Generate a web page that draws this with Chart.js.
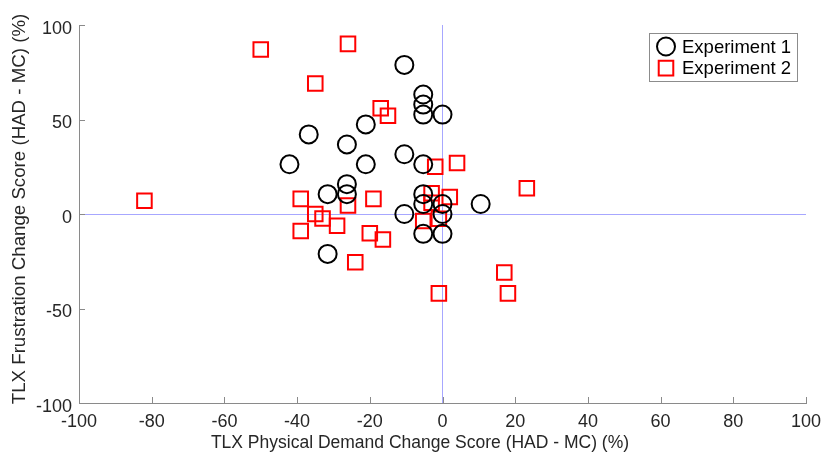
<!DOCTYPE html>
<html>
<head>
<meta charset="utf-8">
<script src="https://cdn.jsdelivr.net/npm/chart.js@4/dist/chart.umd.min.js"></script>
<style>
  html, body { margin: 0; padding: 0; background: #fff; }
  #wrap { width: 825px; height: 456px; }
</style>
</head>
<body>
<div id="wrap"><canvas id="c" width="825" height="456"></canvas></div>
<script>
// TLX change scores (HAD - MC), in percent
const exp1Physical = [-10.5, -5.3, -5.3, -5.3, 0, -36.8, -21.1, -26.3, -42.1, -21.1, -10.5, -5.3,
                      -26.3, -26.3, -31.6, -5.3, -5.3, 0, -10.5, 0, 10.5, -5.3, 0, -31.6];
const exp1Frustration = [78.9, 63.2, 57.9, 52.6, 52.6, 42.1, 47.4, 36.8, 26.3, 26.3, 31.6, 26.3,
                         15.8, 10.5, 10.5, 10.5, 5.3, 5.3, 0, 0, 5.3, -10.5, -10.5, -21.1];

const exp2Physical = [-50, -26, -35, -17, -15, -82, -39, -19, -26, -2, 4, 23.2, -39, -35, -33,
                      -29, -20, -16.4, -24, -3, -3, 2, -5.3, -1, -1, 17, 18];
const exp2Frustration = [87, 90, 69, 56, 52, 7, 8, 8, 4.5, 25, 27, 13.6, -9, 0, -2.4,
                         -6.2, -10.2, -13.5, -25.5, 11, 6, 9, -3.7, -2.5, -42, -31, -42];

const xTicks = [-100, -80, -60, -40, -20, 0, 20, 40, 60, 80, 100];
const yTicks = [-100, -50, 0, 50, 100];

const seriesNames = ['Experiment 1', 'Experiment 2'];
const xTitle = 'TLX Physical Demand Change Score (HAD - MC) (%)';
const yTitle = 'TLX Frustration Change Score (HAD - MC) (%)';

const toPoints = (xs, ys) => xs.map((x, i) => ({ x: x, y: ys[i] }));

const AXIS_GREY = '#8a8a8a';
const TEXT_COLOR = '#262626';
const ZERO_COLOR = 'rgba(120,120,255,0.65)';
const FONT = '"Liberation Sans", Arial, sans-serif';

// Tick marks pointing into the plot, plus the axis titles and boxed legend
const decorations = {
  id: 'decorations',
  afterDatasetsDraw(chart) {
    const { ctx, chartArea: a, scales } = chart;
    ctx.save();
    ctx.strokeStyle = AXIS_GREY;
    ctx.lineWidth = 1;
    ctx.beginPath();
    scales.x.ticks.forEach(t => {
      const px = Math.round(scales.x.getPixelForValue(t.value)) + 0.5;
      ctx.moveTo(px, a.bottom);
      ctx.lineTo(px, a.bottom - 6);
    });
    scales.y.ticks.forEach(t => {
      const py = Math.round(scales.y.getPixelForValue(t.value)) + 0.5;
      ctx.moveTo(a.left, py);
      ctx.lineTo(a.left + 6, py);
    });
    ctx.stroke();

    // axis titles
    ctx.fillStyle = TEXT_COLOR;
    ctx.textAlign = 'center';
    ctx.textBaseline = 'middle';
    ctx.font = '17.5px ' + FONT;
    ctx.fillText(xTitle, 420, 443);
    ctx.save();
    ctx.font = '18.7px ' + FONT;
    ctx.translate(20, 209);
    ctx.rotate(-Math.PI / 2);
    ctx.fillText(yTitle, 0, 0);
    ctx.restore();

    // legend
    const boxR = a.right - 9, boxT = a.top + 8, boxW = 148, boxH = 48;
    ctx.fillStyle = '#fff';
    ctx.fillRect(boxR - boxW, boxT, boxW, boxH);
    ctx.strokeStyle = '#8c8c8c';
    ctx.strokeRect(boxR - boxW + 0.5, boxT + 0.5, boxW, boxH);
    ctx.font = '18.5px ' + FONT;
    ctx.textAlign = 'left';
    chart.data.datasets.forEach((ds, i) => {
      const cy = boxT + 13.5 + i * 21.6;
      const cx = boxR - boxW + 17;
      ctx.strokeStyle = ds.borderColor;
      ctx.fillStyle = 'rgba(0,0,0,0)';
      ctx.lineWidth = ds.borderWidth;
      Chart.helpers.drawPoint(ctx, {
        pointStyle: ds.pointStyle, radius: ds.pointRadius, rotation: 0, borderWidth: ds.borderWidth
      }, cx, cy);
      ctx.fillStyle = '#000';
      ctx.fillText(ds.label, cx + 16, cy + 1);
    });
    ctx.restore();
  }
};

new Chart(document.getElementById('c'), {
  type: 'scatter',
  data: {
    datasets: [
      {
        label: seriesNames[0],
        data: toPoints(exp1Physical, exp1Frustration),
        pointStyle: 'circle',
        pointRadius: 9,
        pointHoverRadius: 9,
        borderColor: '#000000',
        backgroundColor: 'rgba(0,0,0,0)',
        borderWidth: 2
      },
      {
        label: seriesNames[1],
        data: toPoints(exp2Physical, exp2Frustration),
        pointStyle: 'rect',
        pointRadius: 10.3,
        pointHoverRadius: 10.3,
        borderColor: '#ff0000',
        backgroundColor: 'rgba(0,0,0,0)',
        borderWidth: 2
      }
    ]
  },
  options: {
    responsive: false,
    animation: false,
    layout: { padding: { top: 25, right: 19, left: 0, bottom: 0 } },
    plugins: { legend: { display: false }, tooltip: { enabled: false } },
    scales: {
      x: {
        type: 'linear',
        min: -100, max: 100,
        afterBuildTicks: s => { s.ticks = xTicks.map(v => ({ value: v })); },
        afterFit: s => { s.height = 53; s.paddingLeft = 0; s.paddingRight = 0; },
        border: { display: true, color: AXIS_GREY, width: 1 },
        grid: {
          drawTicks: false,
          color: c => (c.tick && c.tick.value === 0 ? ZERO_COLOR : 'rgba(0,0,0,0)'),
          lineWidth: 1
        },
        ticks: { color: TEXT_COLOR, font: { family: FONT, size: 18 }, padding: 8, maxRotation: 0 }
      },
      y: {
        type: 'linear',
        min: -100, max: 100,
        afterBuildTicks: s => { s.ticks = yTicks.map(v => ({ value: v })); },
        afterFit: s => { s.width = 79; s.paddingTop = 0; s.paddingBottom = 0; },
        border: { display: true, color: AXIS_GREY, width: 1 },
        grid: {
          drawTicks: false,
          color: c => (c.tick && c.tick.value === 0 ? ZERO_COLOR : 'rgba(0,0,0,0)'),
          lineWidth: 1
        },
        ticks: { color: TEXT_COLOR, font: { family: FONT, size: 18 }, padding: 7, labelOffset: 4 }
      }
    }
  },
  plugins: [decorations]
});
</script>
</body>
</html>
